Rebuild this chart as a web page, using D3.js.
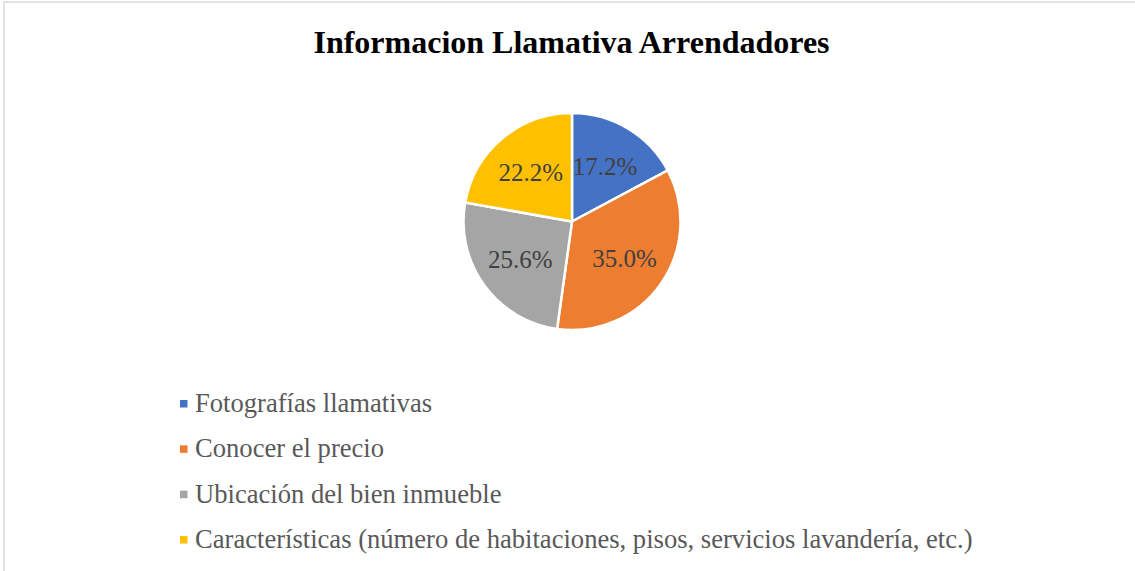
<!DOCTYPE html>
<html><head><meta charset="utf-8">
<script src="https://cdn.jsdelivr.net/npm/d3@7"></script>
<style>body{margin:0;background:#fff}svg{display:block}</style>
</head><body>
<script>
const categories = ["Fotografías llamativas","Conocer el precio","Ubicación del bien inmueble","Características (número de habitaciones, pisos, servicios lavandería, etc.)"];
const values = [17.2, 35.0, 25.6, 22.2];
const colors = ["#4472C4","#ED7D31","#A5A5A5","#FFC000"];
const title = "Informacion Llamativa Arrendadores";

const W=1135,H=571;
const FONT="Liberation Serif, Times New Roman, serif";
const svg=d3.select("body").append("svg").attr("width",W).attr("height",H);
svg.append("rect").attr("x",4).attr("y",2).attr("width",W+10).attr("height",H+10)
  .attr("fill","#fff").attr("stroke","#d9d9d9").attr("stroke-width",1.5);

svg.append("text").attr("x",571.5).attr("y",53).attr("text-anchor","middle")
  .attr("font-family",FONT).attr("font-weight","bold")
  .attr("font-size",32).attr("fill","#000").text(title);

const cx=572, cy=221.5, R=108.5;
const pie=d3.pie().sort(null).value(d=>d);
const arcs=pie(values);
const arc=d3.arc().innerRadius(0).outerRadius(R);
const labelArc=d3.arc().innerRadius(64).outerRadius(64);
const g=svg.append("g").attr("transform",`translate(${cx},${cy})`);
g.selectAll("path").data(arcs).join("path").attr("d",arc)
  .attr("fill",(d,i)=>colors[i]).attr("stroke","#fff").attr("stroke-width",2.5).attr("stroke-linejoin","round");
g.selectAll("text").data(arcs).join("text")
  .attr("transform",d=>`translate(${labelArc.centroid(d)})`)
  .attr("text-anchor","middle").attr("dy","0.35em")
  .attr("font-family",FONT).attr("font-size",25)
  .attr("fill","#404040").text(d=>d.data.toFixed(1)+"%");

const ly=d3.scalePoint().domain(categories).range([404,540]);
const lg=svg.append("g");
categories.forEach((c,i)=>{
  lg.append("rect").attr("x",180).attr("y",ly(c)-4).attr("width",7.5).attr("height",7.5).attr("fill",colors[i]);
  lg.append("text").attr("x",195).attr("y",ly(c)+8).attr("font-family",FONT)
    .attr("font-size",26.6).attr("fill","#595959").text(c);
});
</script>
</body></html>
